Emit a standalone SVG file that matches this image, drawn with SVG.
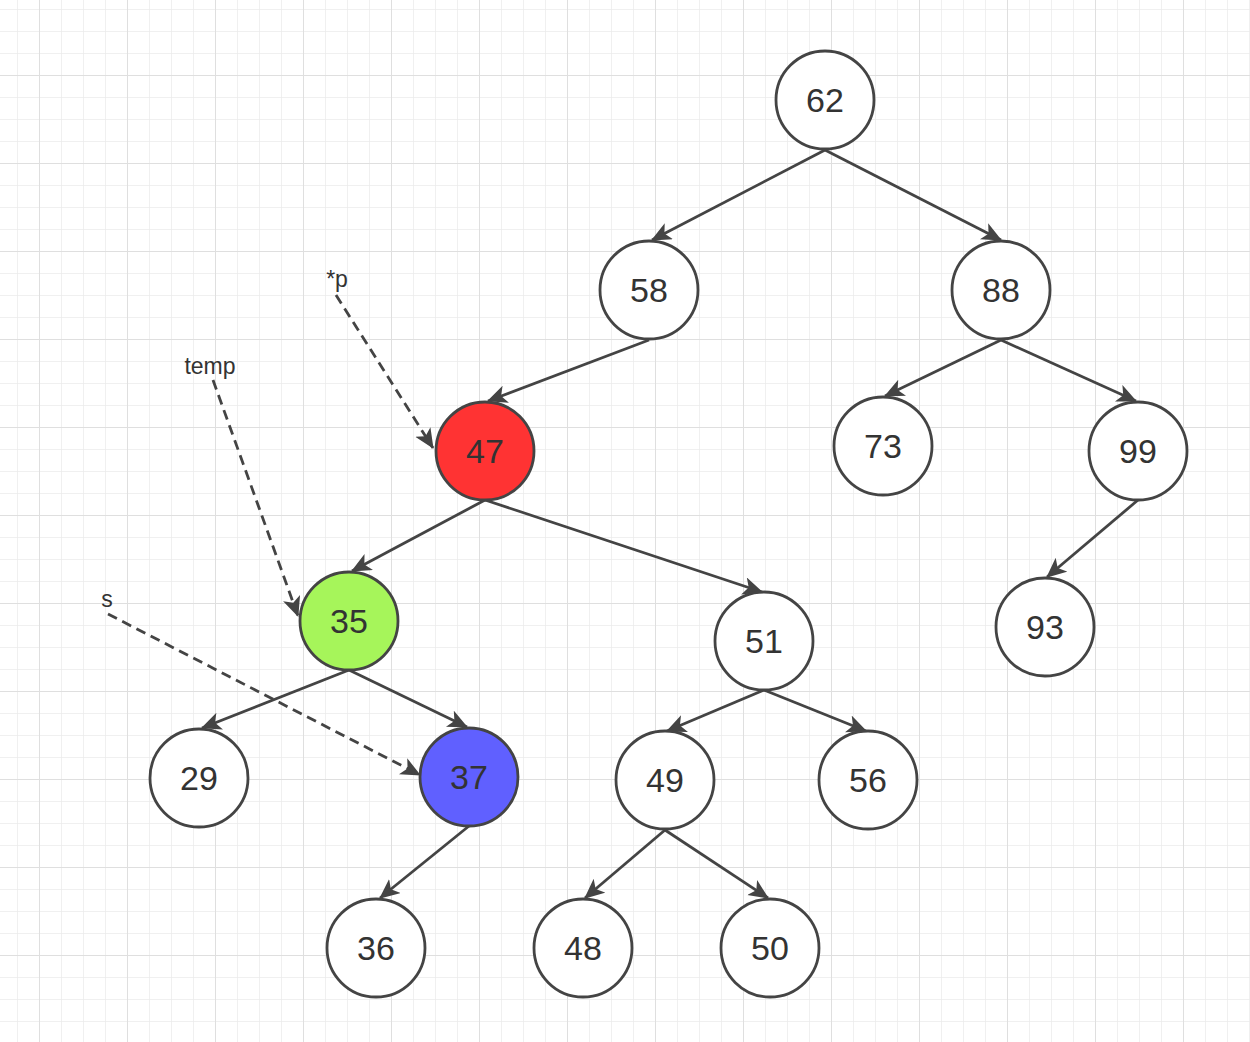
<svg xmlns="http://www.w3.org/2000/svg" width="1250" height="1042" viewBox="0 0 1250 1042">
<style>
.n circle{stroke:#444;stroke-width:2.8;fill:#fff}
.n text{font-family:"Liberation Sans",Arial,sans-serif;font-size:34px;fill:#333;text-anchor:middle;dominant-baseline:central}
.e line{stroke:#444;stroke-width:2.8;marker-end:url(#ah)}
.d line{stroke:#444;stroke-width:2.8;stroke-dasharray:10,6;marker-end:url(#ah)}
.lbl{font-family:"Liberation Sans",Arial,sans-serif;font-size:23px;fill:#333;text-anchor:middle}
</style>
<defs>
<pattern id="gs" width="22" height="22" patternUnits="userSpaceOnUse" x="17" y="9">
<path d="M0 0H22M0 0V22" fill="none" stroke="#ebebeb" stroke-width="1.5"/>
</pattern>
<pattern id="gl" width="88" height="88" patternUnits="userSpaceOnUse" x="39" y="75">
<path d="M0 0H88M0 0V88" fill="none" stroke="#dfdfdf" stroke-width="2"/>
</pattern>
<marker id="ah" markerWidth="22" markerHeight="20" refX="19" refY="9" orient="auto" markerUnits="userSpaceOnUse">
<path d="M0 0L20 9L0 18L5 9Z" fill="#444"/>
</marker>
</defs>
<rect width="1250" height="1042" fill="#fff"/>
<rect width="1250" height="1042" fill="url(#gs)"/>
<rect width="1250" height="1042" fill="url(#gl)"/>
<g id="connectors">
<g class="e">
<line x1="825" y1="150" x2="652" y2="240"/>
<line x1="825" y1="150" x2="1001" y2="240"/>
<line x1="649" y1="340" x2="488" y2="401"/>
<line x1="1001" y1="340" x2="885" y2="396"/>
<line x1="1001" y1="340" x2="1136" y2="401"/>
<line x1="1138" y1="500" x2="1047" y2="577"/>
<line x1="485" y1="500" x2="352" y2="571"/>
<line x1="485" y1="500" x2="762" y2="592"/>
<line x1="349" y1="670" x2="202" y2="728"/>
<line x1="349" y1="670" x2="467" y2="727"/>
<line x1="764" y1="690" x2="667" y2="731"/>
<line x1="764" y1="690" x2="866" y2="731"/>
<line x1="469" y1="826" x2="380" y2="898"/>
<line x1="665" y1="830" x2="585" y2="898"/>
<line x1="665" y1="830" x2="768" y2="898"/>
</g>
<g class="d">
<line x1="336" y1="295" x2="433" y2="448"/>
<line x1="213" y1="380" x2="298" y2="616"/>
<line x1="108" y1="614" x2="420" y2="775"/>
</g>
</g>
<g id="labels">
<text class="lbl" x="337" y="287">*p</text>
<text class="lbl" x="210" y="374">temp</text>
<text class="lbl" x="107" y="607">s</text>
</g>
<g id="n62" class="n"><circle cx="825" cy="100" r="49"/><text x="825" y="100">62</text></g>
<g id="n58" class="n"><circle cx="649" cy="290" r="49"/><text x="649" y="290">58</text></g>
<g id="n88" class="n"><circle cx="1001" cy="290" r="49"/><text x="1001" y="290">88</text></g>
<g id="n47" class="n"><circle cx="485" cy="451" r="49" style="fill:#ff3333"/><text x="485" y="451">47</text></g>
<g id="n73" class="n"><circle cx="883" cy="446" r="49"/><text x="883" y="446">73</text></g>
<g id="n99" class="n"><circle cx="1138" cy="451" r="49"/><text x="1138" y="451">99</text></g>
<g id="n35" class="n"><circle cx="349" cy="621" r="49" style="fill:#a6f55a"/><text x="349" y="621">35</text></g>
<g id="n51" class="n"><circle cx="764" cy="641" r="49"/><text x="764" y="641">51</text></g>
<g id="n93" class="n"><circle cx="1045" cy="627" r="49"/><text x="1045" y="627">93</text></g>
<g id="n29" class="n"><circle cx="199" cy="778" r="49"/><text x="199" y="778">29</text></g>
<g id="n37" class="n"><circle cx="469" cy="777" r="49" style="fill:#6060ff"/><text x="469" y="777">37</text></g>
<g id="n49" class="n"><circle cx="665" cy="780" r="49"/><text x="665" y="780">49</text></g>
<g id="n56" class="n"><circle cx="868" cy="780" r="49"/><text x="868" y="780">56</text></g>
<g id="n36" class="n"><circle cx="376" cy="948" r="49"/><text x="376" y="948">36</text></g>
<g id="n48" class="n"><circle cx="583" cy="948" r="49"/><text x="583" y="948">48</text></g>
<g id="n50" class="n"><circle cx="770" cy="948" r="49"/><text x="770" y="948">50</text></g>
</svg>
